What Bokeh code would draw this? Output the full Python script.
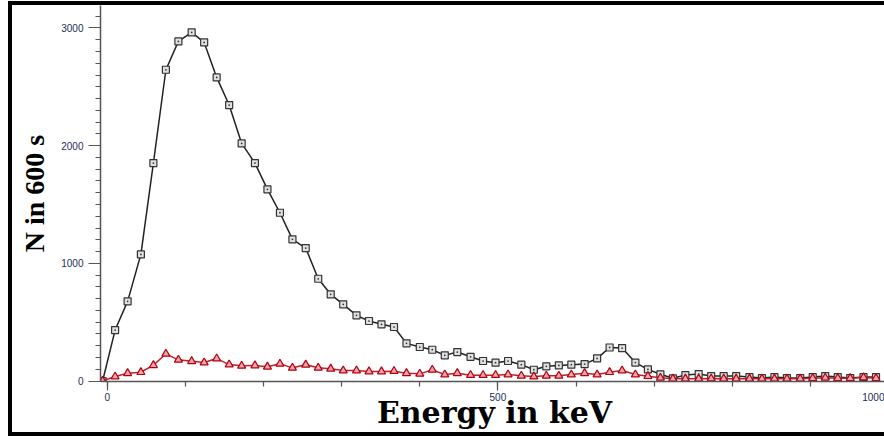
from bokeh.plotting import figure
from bokeh.models import Range1d, FixedTicker
from bokeh.embed import file_html
from bokeh.resources import INLINE

# Spectrum channels (energy in keV) and counts collected in 600 s
energy_kev = [-6, 10, 26, 43, 59, 75, 91, 108, 124, 140, 156, 172, 189, 205, 221, 237,
              254, 270, 286, 302, 319, 335, 351, 367, 383, 400, 416, 432, 448, 465, 481, 497,
              513, 530, 546, 562, 578, 594, 611, 627, 643, 659, 676, 692, 708, 724, 740, 757,
              773, 789, 805, 822, 838, 854, 870, 887, 903, 919, 935, 951, 968, 984]

counts_black = [0, 433, 677, 1076, 1852, 2645, 2886, 2962, 2877, 2580, 2345, 2019, 1852, 1629, 1430, 1204,
                1130, 869, 737, 652, 558, 510, 482, 459, 320, 289, 266, 218, 246, 206, 170, 156,
                170, 139, 96, 125, 133, 139, 144, 192, 285, 280, 157, 99, 57, 23, 51, 59,
                42, 42, 42, 34, 25, 34, 25, 25, 34, 42, 34, 25, 34, 34]

counts_red = [0, 38, 66, 75, 134, 231, 180, 168, 157, 191, 140, 129, 132, 121, 146, 112,
              138, 112, 104, 89, 89, 81, 81, 84, 66, 61, 95, 55, 66, 50, 50, 50,
              55, 44, 38, 44, 44, 55, 66, 55, 75, 89, 55, 41, 27, 19, 19, 19,
              21, 19, 19, 19, 19, 19, 19, 19, 24, 27, 24, 24, 30, 24]

x_major = [0, 500, 1000]
x_minor = list(range(0, 1001, 100))
y_major = [0, 1000, 2000, 3000]
y_minor = list(range(0, 3201, 100))

TICK_COLOR = "#1c2b5a"
AXIS_COLOR = "#555555"

p = figure(width=872, height=427, output_backend="svg", toolbar_location=None,
           x_range=Range1d(-8.7, 1000), y_range=Range1d(-4, 3191),
           min_border_left=88, min_border_right=0, min_border_top=0, min_border_bottom=59)
# Heavy black frame on three sides of the chart
p.styles = {"box-sizing": "content-box", "margin-left": "8px", "margin-top": "1px",
            "border-left": "4px solid black", "border-top": "4px solid black",
            "border-bottom": "4px solid black"}
p.xgrid.visible = False
p.ygrid.visible = False
p.outline_line_color = None
p.background_fill_color = "white"
p.border_fill_color = "white"

# Axes
p.xaxis.ticker = FixedTicker(ticks=x_major, minor_ticks=x_minor)
p.yaxis.ticker = FixedTicker(ticks=y_major, minor_ticks=y_minor)
for ax in (p.xaxis, p.yaxis):
    ax.axis_line_color = AXIS_COLOR
    ax.axis_line_width = 1.5
    ax.major_tick_line_color = AXIS_COLOR
    ax.minor_tick_line_color = AXIS_COLOR
    ax.major_tick_line_width = 1.2
    ax.minor_tick_line_width = 1.2
    ax.major_tick_in = 0
    ax.minor_tick_in = 0
    ax.major_label_text_font = "Liberation Sans"
    ax.major_label_text_font_size = "10px"
    ax.major_label_text_color = TICK_COLOR
    ax.axis_label_text_font_style = "bold"
    ax.axis_label_text_color = "black"

p.xaxis.major_tick_out = 9
p.xaxis.minor_tick_out = 5
p.xaxis.major_label_standoff = 2
p.xaxis.axis_label = "Energy in keV"
p.xaxis.axis_label_text_font = "DejaVu Serif"
p.xaxis.axis_label_text_font_size = "30px"
p.xaxis.axis_label_standoff = -9

p.yaxis.major_tick_out = 12
p.yaxis.minor_tick_out = 5
p.yaxis.major_label_standoff = 5
p.yaxis.axis_label = "N in 600 s"
p.yaxis.axis_label_text_font = "Liberation Serif"
p.yaxis.axis_label_text_font_size = "28px"
p.yaxis.axis_label_standoff = 8

# Series
p.line(energy_kev, counts_black, line_color="#222222", line_width=1.5)
p.scatter(energy_kev, counts_black, marker="square_dot", size=7,
          line_color="#333333", fill_color="#e0e0e0", line_width=1.2)

p.line(energy_kev, counts_red, line_color="#c0202a", line_width=1.5)
p.scatter(energy_kev, counts_red, marker="triangle", size=8,
          line_color="#b00010", fill_color="#f2a4a8", line_width=1.2)

open("out.html", "w").write(file_html(p, INLINE))
